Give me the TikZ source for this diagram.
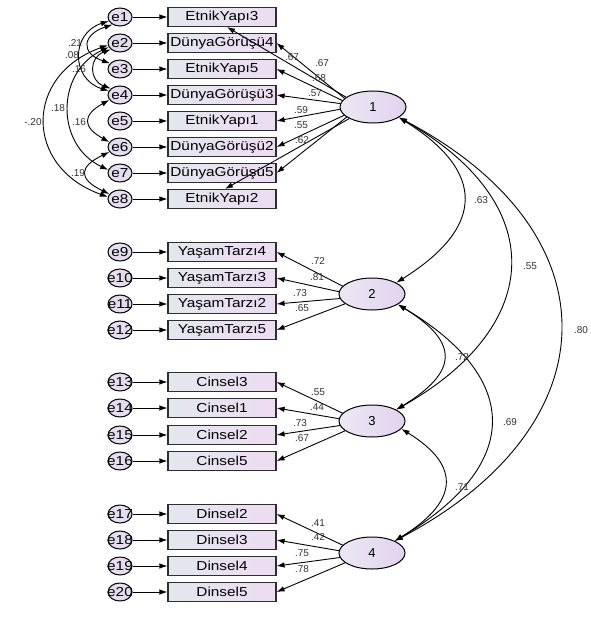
\documentclass[tikz,border=0pt]{standalone}
\usepackage{fontspec}
\setmainfont{Liberation Sans}
\newfontfamily\boxfont[FakeStretch=1.18]{Liberation Sans}
\usetikzlibrary{shapes.geometric,arrows.meta}
\definecolor{boxleft}{HTML}{E3E7EE}
\definecolor{boxright}{HTML}{EEDCF3}
\definecolor{errfill}{HTML}{E6DCF0}
\definecolor{latleft}{HTML}{ECE8F3}
\definecolor{latright}{HTML}{E2D3EE}
\definecolor{lblcol}{HTML}{333333}
\definecolor{boxdraw}{HTML}{2E2E2E}
\newcommand{\ztext}[1]{\makebox[0pt][c]{#1}}
\begin{document}
\begin{tikzpicture}[x=1pt,y=-1pt,
  err/.style={ellipse,draw=black,line width=1pt,fill=errfill,minimum width=24pt,minimum height=18pt,inner sep=0pt,font=\boxfont\fontsize{13}{14}\selectfont},
  obs/.style={rectangle,draw=boxdraw,line width=1.1pt,left color=boxleft,right color=boxright,minimum width=108pt,minimum height=19pt,inner sep=0pt,font=\boxfont\fontsize{13}{14}\selectfont},
  lat/.style={ellipse,draw=black,line width=1pt,left color=latleft,right color=latright,minimum width=66pt,minimum height=32pt,inner sep=0pt,font=\fontsize{13}{14}\selectfont},
  arr/.style={-{Latex[length=8pt,width=5.5pt]},line width=0.9pt},
  cov/.style={{Latex[length=8pt,width=5.5pt]}-{Latex[length=8pt,width=5.5pt]},line width=0.9pt},
  lbl/.style={inner sep=0pt,text=lblcol,font=\fontsize{10}{11}\selectfont}
]
\useasboundingbox (0,0) rectangle (590,623);
\fill[white] (0,0) rectangle (590,623);

% error terms
\foreach \i/\y in {1/17,2/43,3/69,4/95,5/121,6/147,7/173,8/199,9/252,10/278,11/304,12/330,13/382,14/408,15/435,16/461,17/514,18/540,19/566,20/592}{
  \node[err] (e\i) at (120,\y) {\ztext{e\i}};
}

% observed variables
\node[obs] (o1) at (222,17) {EtnikYapı3};
\node[obs] (o2) at (222,43) {DünyaGörüşü4};
\node[obs] (o3) at (222,69) {EtnikYapı5};
\node[obs] (o4) at (222,95) {DünyaGörüşü3};
\node[obs] (o5) at (222,121) {EtnikYapı1};
\node[obs] (o6) at (222,147) {DünyaGörüşü2};
\node[obs] (o7) at (222,173) {DünyaGörüşü5};
\node[obs] (o8) at (222,199) {EtnikYapı2};
\node[obs] (o9) at (222,252) {YaşamTarzı4};
\node[obs] (o10) at (222,278) {YaşamTarzı3};
\node[obs] (o11) at (222,304) {YaşamTarzı2};
\node[obs] (o12) at (222,330) {YaşamTarzı5};
\node[obs] (o13) at (222,382) {Cinsel3};
\node[obs] (o14) at (222,408) {Cinsel1};
\node[obs] (o15) at (222,435) {Cinsel2};
\node[obs] (o16) at (222,461) {Cinsel5};
\node[obs] (o17) at (222,514) {Dinsel2};
\node[obs] (o18) at (222,540) {Dinsel3};
\node[obs] (o19) at (222,566) {Dinsel4};
\node[obs] (o20) at (222,592) {Dinsel5};

% latent factors
\node[lat] (l1) at (373,107) {1};
\node[lat] (l2) at (372,294) {2};
\node[lat] (l3) at (372,421) {3};
\node[lat] (l4) at (372,553) {4};

% error arrows
\foreach \i in {1,...,20}{
  \draw[arr] (e\i.east) -- (o\i.west);
}

% loadings factor 1
\draw[arr] (l1.160) -- ([xshift=5pt]o1.south);
\draw[arr] (l1.163) -- (o2.east);
\draw[arr] (l1.168) -- (o3.east);
\draw[arr] (l1.174) -- (o4.east);
\draw[arr] (l1.184) -- (o5.east);
\draw[arr] (l1.196) -- (o6.east);
\draw[arr] (l1.201) -- (o7.east);
\draw[arr] (l1.206) -- ([xshift=3pt]o8.north);
% loadings factor 2-4
\draw[arr] (l2.165) -- (o9.east);
\draw[arr] (l2.176) -- (o10.east);
\draw[arr] (l2.188) -- (o11.east);
\draw[arr] (l2.200) -- (o12.east);
\draw[arr] (l3.165) -- (o13.east);
\draw[arr] (l3.176) -- (o14.east);
\draw[arr] (l3.188) -- (o15.east);
\draw[arr] (l3.200) -- (o16.east);
\draw[arr] (l4.165) -- (o17.east);
\draw[arr] (l4.176) -- (o18.east);
\draw[arr] (l4.188) -- (o19.east);
\draw[arr] (l4.200) -- (o20.east);

% loading labels
\node[lbl] (a1) at (292,57) {.67};
\node[lbl] (a2) at (322,63) {.67};
\node[lbl] (a3) at (319,78) {.68};
\node[lbl] (a4) at (315,93) {.57};
\node[lbl] (a5) at (301,110) {.59};
\node[lbl] (a6) at (301,125) {.55};
\node[lbl] (a7) at (302,140) {.62};
\node[lbl] (a9) at (318,261) {.72};
\node[lbl] (a10) at (317,277) {.81};
\node[lbl] (a11) at (300,293) {.73};
\node[lbl] (a12) at (302,308) {.65};
\node[lbl] (a13) at (318,392) {.55};
\node[lbl] (a14) at (317,407) {.44};
\node[lbl] (a15) at (300,423) {.73};
\node[lbl] (a16) at (302,438) {.67};
\node[lbl] (a17) at (318,523) {.41};
\node[lbl] (a18) at (318,537) {.42};
\node[lbl] (a19) at (302,553) {.75};
\node[lbl] (a20) at (302,569) {.78};

% factor covariances
\draw[cov] (l1.-22) .. controls +(88,55) and +(88,-55) .. (l2.25);
\draw[cov] (l1.-22) .. controls +(150,85) and +(150,-85) .. (l3.25);
\draw[cov] (l1.-22) .. controls +(218,115) and +(218,-115) .. (l4.28);
\draw[cov] (l2.-22) .. controls +(62,38) and +(62,-38) .. (l3.25);
\draw[cov] (l2.-22) .. controls +(126,75) and +(126,-75) .. (l4.28);
\draw[cov] (l3.-15) .. controls +(62,38) and +(62,-38) .. (l4.28);
\node[lbl] (f12) at (481,200) {.63};
\node[lbl] (f13) at (530,266) {.55};
\node[lbl] (f14) at (581,330) {.80};
\node[lbl] (f23) at (462,357) {.72};
\node[lbl] (f24) at (510,422) {.69};
\node[lbl] (f34) at (462,487) {.71};

% error covariances
\draw[cov] (e1.200) .. controls +(-38,12) and +(-38,-12) .. (e4.160);
\draw[cov] (e1.225) .. controls +(-30,10) and +(-30,-10) .. (e3.150);
\draw[cov] (e2.215) .. controls +(-22,8) and +(-22,-8) .. (e4.145);
\draw[cov] (e2.190) .. controls +(-84,30) and +(-84,-30) .. (e8.170);
\draw[cov] (e2.200) .. controls +(-53,25) and +(-53,-25) .. (e7.165);
\draw[cov] (e4.205) .. controls +(-27,15) and +(-27,-15) .. (e6.155);
\draw[cov] (e6.205) .. controls +(-31,15) and +(-31,-15) .. (e8.155);
\node[lbl] (c14) at (75,43) {.21};
\node[lbl] (c13) at (72,55) {.08};
\node[lbl] (c24) at (79,69) {.16};
\node[lbl] (c28) at (33,122) {-.20};
\node[lbl] (c27) at (58,108) {.18};
\node[lbl] (c46) at (79,122) {.16};
\node[lbl] (c68) at (78,173) {.19};
\end{tikzpicture}
\end{document}
